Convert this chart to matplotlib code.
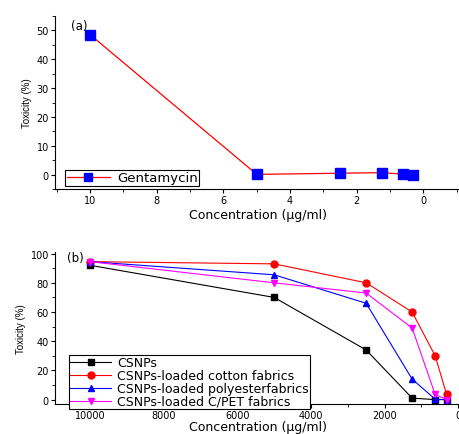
import matplotlib
matplotlib.use("Agg")
import matplotlib.pyplot as plt
from matplotlib.ticker import MultipleLocator

plt.rcParams['font.family'] = ['DejaVu Sans']

# panel (a)
gen_conc = [10, 5, 2.5, 1.25, 0.625, 0.3125]
gen_tox = [48.5, 0.1, 0.5, 0.7, 0.2, -0.1]

# panel (b)
conc = [10000, 5000, 2500, 1250, 625, 312.5]
csnps = [92, 70, 34, 1, 0, 0]
cotton = [94.5, 93, 80, 60, 30, 3.5]
polyester = [94.5, 85.5, 66, 14, 0.3, 0]
cpet = [94.5, 80, 73, 49, 3.5, 0]

fig = plt.figure(figsize=(4.6, 4.35), dpi=100)

ax1 = fig.add_axes([0.12, 0.563, 0.88, 0.398])
ax1.plot(gen_conc, gen_tox, color="red", lw=0.9, marker="s", ms=6.5,
         mfc="blue", mec="blue", label="Gentamycin")
ax1.set_xlim(11.05, -1.1)
ax1.set_ylim(-5, 55)
ax1.xaxis.set_major_locator(MultipleLocator(2))
ax1.xaxis.set_minor_locator(MultipleLocator(1))
ax1.yaxis.set_major_locator(MultipleLocator(10))
ax1.yaxis.set_minor_locator(MultipleLocator(5))
ax1.set_xlabel("Concentration (\u03bcg/ml)", fontsize=9, labelpad=2)
ax1.set_ylabel("Toxicity (%)", fontsize=7, family="Liberation Sans", labelpad=3)
ax1.text(0.04, 0.985, "(a)", transform=ax1.transAxes, fontsize=8.5, va="top")
leg1 = ax1.legend(loc="lower left", bbox_to_anchor=(0.025, 0.02), fontsize=9.5,
                  fancybox=False, edgecolor="black", framealpha=1,
                  borderpad=0.1, handlelength=3.3, handletextpad=0.5,
                  markerscale=0.85, borderaxespad=0)
leg1.get_frame().set_linewidth(0.8)

ax2 = fig.add_axes([0.12, 0.069, 0.88, 0.349])
ax2.plot(conc, csnps, color="black", lw=0.8, marker="s", ms=4.5, label="CSNPs")
ax2.plot(conc, cotton, color="red", lw=0.8, marker="o", ms=5,
         label="CSNPs-loaded cotton fabrics")
ax2.plot(conc, polyester, color="blue", lw=0.8, marker="^", ms=5,
         label="CSNPs-loaded polyesterfabrics")
ax2.plot(conc, cpet, color="magenta", lw=0.8, marker="v", ms=5,
         label="CSNPs-loaded C/PET fabrics")
ax2.set_xlim(10950, -50)
ax2.set_ylim(-3, 101)
ax2.xaxis.set_major_locator(MultipleLocator(2000))
ax2.xaxis.set_minor_locator(MultipleLocator(1000))
ax2.yaxis.set_major_locator(MultipleLocator(20))
ax2.yaxis.set_minor_locator(MultipleLocator(10))
ax2.set_xlabel("Concentration (\u03bcg/ml)", fontsize=9, labelpad=0)
ax2.set_ylabel("Toxicity (%)", fontsize=7, family="Liberation Sans", labelpad=3)
ax2.text(0.03, 1.01, "(b)", transform=ax2.transAxes, fontsize=8.5, va="top")
leg2 = ax2.legend(loc="lower left", bbox_to_anchor=(0.035, -0.03), fontsize=9,
                  fancybox=False, edgecolor="black", framealpha=1,
                  borderpad=0.05, labelspacing=0.0, handlelength=3.3,
                  handletextpad=0.5, borderaxespad=0)
leg2.get_frame().set_linewidth(0.8)

for ax in (ax1, ax2):
    ax.spines["top"].set_visible(False)
    ax.spines["right"].set_visible(False)
    ax.tick_params(which="major", direction="out", length=3, labelsize=7, pad=1.5)
    ax.tick_params(which="minor", direction="out", length=2)

fig.savefig("out.png", dpi=100)
